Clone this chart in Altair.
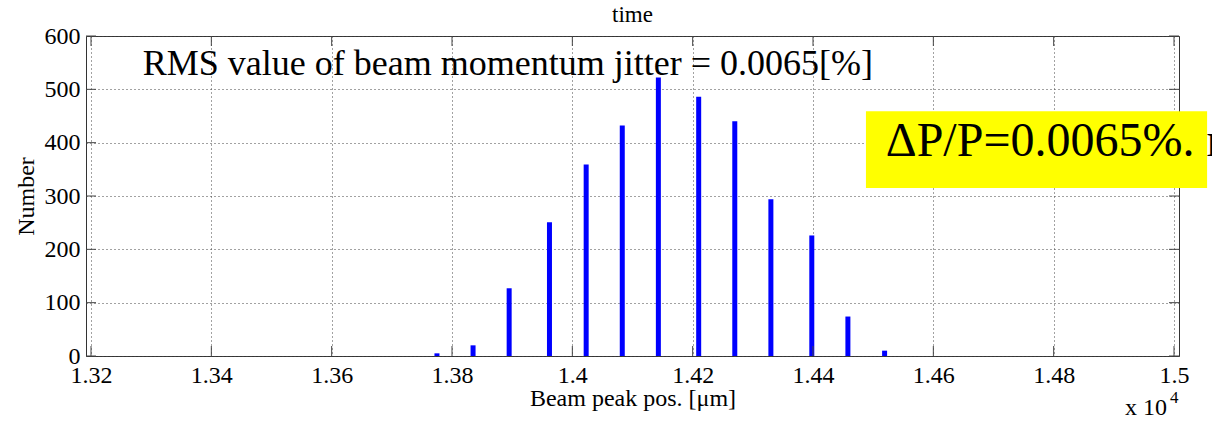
import altair as alt
import pandas as pd

# ---- data ----
positions = [1.3775, 1.3835, 1.3895, 1.3962, 1.4023, 1.4083, 1.4143,
             1.4210, 1.4270, 1.4330, 1.4398, 1.4458, 1.4519]
counts = [5, 20, 127, 251, 359, 432, 522, 486, 440, 294, 226, 74, 10]

x_ticks = [1.32, 1.34, 1.36, 1.38, 1.40, 1.42, 1.44, 1.46, 1.48, 1.50]
y_ticks = [0, 100, 200, 300, 400, 500, 600]
x_domain = [1.32, 1.5]
y_domain = [0, 600]

title_text = ["time"]
x_title = "Beam peak pos. [μm]"
y_title = "Number"
rms_text = ["RMS value of beam momentum jitter = 0.0065[%]"]
rms_pos_x = [1.3286]
rms_pos_y = [527]
box_text = ["ΔP/P=0.0065%. rms"]
box_text_x = [1.4521]
box_text_y = [375]
box_x1 = [1.4488]
box_x2 = [1.5055]
box_y1 = [315]
box_y2 = [459]
exp_base = ["x 10"]
exp_power = ["4"]

# ---- layout / style ----
W, H = 1093, 320
FONT = "Liberation Serif"

xs = alt.Scale(domain=x_domain, nice=False, zero=False)
ys = alt.Scale(domain=y_domain, nice=False, zero=False)

grid_style = dict(grid=True, gridColor="#444", gridDash=[1, 3], gridWidth=1,
                  ticks=False, domain=False, labelFont=FONT, labelFontSize=24,
                  labelColor="black", labelOverlap=False, labelFlush=False,
                  titleFont=FONT, titleFontSize=24, titleFontWeight="normal",
                  titleColor="black")

x_axis = alt.Axis(values=x_ticks, format="~g", labelPadding=7, title=x_title,
                  titleBaseline="alphabetic", titleY=49, **grid_style)
y_axis = alt.Axis(values=y_ticks, format="d", labelPadding=6, title=y_title,
                  titleBaseline="alphabetic", titleX=-53, titleY=H / 2,
                  titleAlign="center", **grid_style)


def X(field):
    return alt.X(field, scale=xs, axis=x_axis, title=x_title)


def Y(field):
    return alt.Y(field, scale=ys, axis=y_axis, title=y_title)


bars_df = pd.DataFrame({"pos": positions, "count": counts})

bars = alt.Chart(bars_df).mark_bar(color="#0000ff", size=5).encode(
    x=X("pos:Q"),
    y=alt.Y("count:Q", scale=ys, axis=y_axis, title=y_title, stack=None),
)

xt_df = pd.DataFrame({"t": x_ticks})
yt_df = pd.DataFrame({"t": y_ticks})
tick_color = "#444"
bottom_ticks = alt.Chart(xt_df).mark_rule(color=tick_color).encode(
    x=X("t:Q"), y=alt.value(H), y2=alt.value(H - 10))
top_ticks = alt.Chart(xt_df).mark_rule(color=tick_color).encode(
    x=X("t:Q"), y=alt.value(0), y2=alt.value(10))
left_ticks = alt.Chart(yt_df).mark_rule(color=tick_color).encode(
    y=Y("t:Q"), x=alt.value(0), x2=alt.value(10))
right_ticks = alt.Chart(yt_df).mark_rule(color=tick_color).encode(
    y=Y("t:Q"), x=alt.value(W), x2=alt.value(W - 10))

box_df = pd.DataFrame({"x1": box_x1, "x2": box_x2, "y1": box_y1, "y2": box_y2})
box = alt.Chart(box_df).mark_rect(color="#ffff00").encode(
    x=X("x1:Q"), x2="x2:Q", y=Y("y1:Q"), y2="y2:Q")

box_txt_df = pd.DataFrame({"x": box_text_x, "y": box_text_y, "label": box_text})
box_txt = alt.Chart(box_txt_df).mark_text(
    align="left", baseline="alphabetic", font=FONT, fontSize=48, color="black"
).encode(x=X("x:Q"), y=Y("y:Q"), text="label:N")

rms_df = pd.DataFrame({"x": rms_pos_x, "y": rms_pos_y, "label": rms_text})
rms = alt.Chart(rms_df).mark_text(
    align="left", baseline="alphabetic", font=FONT, fontSize=36, color="black"
).encode(x=X("x:Q"), y=Y("y:Q"), text="label:N")

title_df = pd.DataFrame({"label": title_text})
title = alt.Chart(title_df).mark_text(
    align="center", baseline="alphabetic", font=FONT, fontSize=23, color="black"
).encode(x=alt.value(W / 2), y=alt.value(-14), text="label:N")

exp_df = pd.DataFrame({"base": exp_base, "power": exp_power})
exp_base_mark = alt.Chart(exp_df).mark_text(
    align="left", baseline="alphabetic", font=FONT, fontSize=24, color="black"
).encode(x=alt.value(1039), y=alt.value(379), text="base:N")
exp_power_mark = alt.Chart(exp_df).mark_text(
    align="left", baseline="alphabetic", font=FONT, fontSize=17, color="black"
).encode(x=alt.value(1084), y=alt.value(367), text="power:N")

chart = alt.layer(
    bars, bottom_ticks, top_ticks, left_ticks, right_ticks,
    rms, box, box_txt, title, exp_base_mark, exp_power_mark
).properties(
    width=W, height=H,
    autosize=alt.AutoSizeParams(type="none"),
    padding={"left": 86, "top": 36, "right": 33, "bottom": 66},
    background="white",
).configure_view(stroke="#333", strokeWidth=1)

chart.save("out.html", embed_options={"renderer": "svg", "actions": False})
